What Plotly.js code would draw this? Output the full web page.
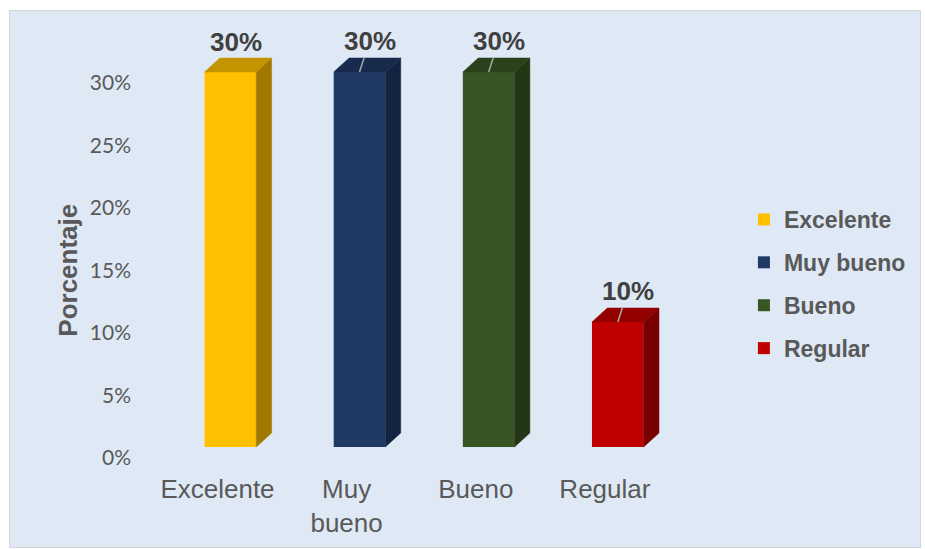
<!DOCTYPE html>
<html>
<head>
<meta charset="utf-8">
<script src="https://cdn.plot.ly/plotly-3.0.1.min.js"></script>
<style>
  html, body { margin: 0; padding: 0; background: #ffffff; }
  #chart { position: absolute; left: 9px; top: 10px; width: 910px; height: 536px; border: 1px solid #d6d6d6; }
</style>
</head>
<body>
<div id="chart"></div>
<script>
// ---- data ----
const categories = ['Excelente', 'Muy bueno', 'Bueno', 'Regular'];
const tickLabels = ['Excelente', 'Muy<br>bueno', 'Bueno', 'Regular'];
const values = [0.30, 0.30, 0.30, 0.10];
const valueLabels = ['30%', '30%', '30%', '10%'];
const frontColors = ['#FFC000', '#1F3864', '#375623', '#C00000'];
const yTicks = [0, 0.05, 0.10, 0.15, 0.20, 0.25, 0.30];
const yTitle = 'Porcentaje';

// ---- 3D look (style constants) ----
const BAR_W = 0.4;      // front face width (x units)
const DEPTH_X = 0.119;  // depth offset (x units)
const DEPTH_Y = 0.0112; // depth offset (y units)
const FLOOR = 0.0088;   // front face lifted above the axis zero
const TICK_SHIFT = -0.1;

function shade(hex, f) {
  const n = parseInt(hex.slice(1), 16);
  const r = Math.round(((n >> 16) & 255) * f);
  const g = Math.round(((n >> 8) & 255) * f);
  const b = Math.round((n & 255) * f);
  return 'rgb(' + r + ',' + g + ',' + b + ')';
}

const traces = [];
// front faces (bars, also used for the legend)
categories.forEach((c, i) => {
  traces.push({
    type: 'bar', name: c, x: [i], y: [values[i]], base: [FLOOR], width: [BAR_W],
    marker: { color: frontColors[i], line: { width: 0 } },
    legendgroup: 'g' + i, showlegend: true, hoverinfo: 'skip'
  });
});
// side and top faces
categories.forEach((c, i) => {
  const v = values[i];
  const xl = i - BAR_W / 2, xr = i + BAR_W / 2;
  const yb = FLOOR, yt = FLOOR + v;
  traces.push({
    type: 'scatter', mode: 'lines', fill: 'toself',
    x: [xr, xr + DEPTH_X, xr + DEPTH_X, xr, xr],
    y: [yb, yb + DEPTH_Y, yt + DEPTH_Y, yt, yb],
    fillcolor: shade(frontColors[i], 0.63), line: { width: 0.5, color: shade(frontColors[i], 0.63) },
    showlegend: false, hoverinfo: 'skip', legendgroup: 'g' + i
  });
  traces.push({
    type: 'scatter', mode: 'lines', fill: 'toself',
    x: [xl, xr, xr + DEPTH_X, xl + DEPTH_X, xl],
    y: [yt, yt, yt + DEPTH_Y, yt + DEPTH_Y, yt],
    fillcolor: shade(frontColors[i], 0.77), line: { width: 0.5, color: shade(frontColors[i], 0.77) },
    showlegend: false, hoverinfo: 'skip', legendgroup: 'g' + i
  });
});

const annotations = categories.map((c, i) => {
  const a = {
    x: i, y: FLOOR + values[i], xref: 'x', yref: 'y',
    text: valueLabels[i],
    font: { family: 'Liberation Sans, Arial, sans-serif', size: 26, color: '#404040', weight: 'bold' },
  };
  if (i === 0) {
    a.showarrow = false; a.xshift = 6; a.yshift = 30;
  } else {
    a.showarrow = true; a.ax = 10; a.ay = -31; a.arrowhead = 0;
    a.arrowwidth = 1.5; a.arrowcolor = '#a6a6a6'; a.standoff = 0; a.startstandoff = 0;
  }
  return a;
});
// y axis title (placed as rotated text so it can sit where the original has it)
annotations.push({
  xref: 'paper', yref: 'paper', x: -0.12, y: 0.444, xanchor: 'center', yanchor: 'middle',
  showarrow: false, textangle: -90,
  text: yTitle,
  font: { family: 'Liberation Sans, Arial, sans-serif', size: 26, color: '#595959', weight: 'bold' }
});

const layout = {
  width: 910, height: 536,
  margin: { l: 130, r: 180, t: 9, b: 77 },
  paper_bgcolor: '#dee9f5', plot_bgcolor: 'rgba(0,0,0,0)',
  barmode: 'overlay', hovermode: false,
  font: { family: 'Liberation Sans, Arial, sans-serif', color: '#595959' },
  xaxis: {
    range: [-0.7, -0.7 + 600 / 130],
    tickmode: 'array', tickvals: categories.map((c, i) => i + TICK_SHIFT), ticktext: tickLabels,
    showgrid: false, zeroline: false, showline: false, ticks: '',
    tickfont: { family: 'Liberation Sans, Arial, sans-serif', size: 26, color: '#595959' },
    ticklabelstandoff: 1, fixedrange: true
  },
  yaxis: {
    range: [-0.0096, 0.3504],
    tickmode: 'array', tickvals: yTicks, tickformat: '.0%',
    showgrid: false, zeroline: false, showline: false, ticks: '',
    tickfont: { family: 'Lato, Carlito, sans-serif', size: 21, color: '#595959' },
    ticklabelstandoff: 8,
    fixedrange: true
  },
  showlegend: true,
  legend: {
    x: 1.0133, y: 0.6045, xanchor: 'left', yanchor: 'top',
    bgcolor: 'rgba(0,0,0,0)', traceorder: 'grouped', tracegroupgap: 10,
    font: { family: 'Liberation Sans, Arial, sans-serif', size: 23, color: '#595959', weight: 'bold' }
  },
  annotations: annotations
};

Plotly.newPlot('chart', traces, layout, { displayModeBar: false, staticPlot: true });
</script>
</body>
</html>
